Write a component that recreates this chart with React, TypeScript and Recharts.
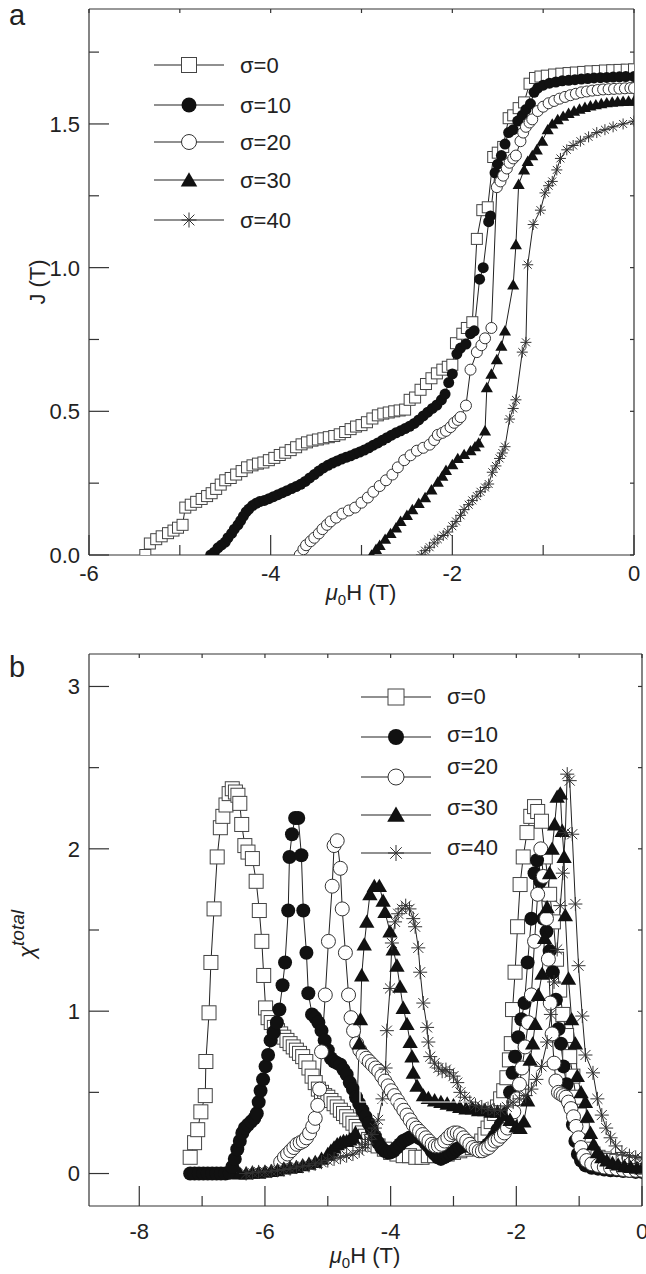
import React from 'react';
import { ComposedChart, Line, XAxis, YAxis } from 'recharts';

type Kind = 'square' | 'dot' | 'ring' | 'tri' | 'star';
type Pt = [number, number];

// panel a: J (T) vs mu0H (T)
const jS0: Pt[] = [
  [-5.38, 0], [-5.33, 0.04], [-5.26, 0.055], [-5.2, 0.065], [-5.13, 0.076], [-5.07, 0.085], [-5.02, 0.095], [-4.97, 0.105],
  [-4.94, 0.165], [-4.88, 0.175], [-4.82, 0.185], [-4.76, 0.195], [-4.7, 0.205], [-4.65, 0.215], [-4.6, 0.23], [-4.55, 0.245],
  [-4.5, 0.26], [-4.44, 0.268], [-4.38, 0.28], [-4.32, 0.292], [-4.26, 0.305], [-4.2, 0.312], [-4.14, 0.318], [-4.08, 0.322],
  [-4.02, 0.33], [-3.96, 0.338], [-3.9, 0.348], [-3.84, 0.356], [-3.78, 0.365], [-3.72, 0.375], [-3.66, 0.385], [-3.6, 0.392],
  [-3.54, 0.398], [-3.48, 0.402], [-3.42, 0.406], [-3.36, 0.41], [-3.3, 0.414], [-3.24, 0.42], [-3.18, 0.428], [-3.12, 0.438],
  [-3.06, 0.447], [-3.0, 0.452], [-2.94, 0.462], [-2.88, 0.475], [-2.82, 0.486], [-2.76, 0.492], [-2.7, 0.496], [-2.64, 0.5],
  [-2.58, 0.503], [-2.52, 0.506], [-2.47, 0.54], [-2.41, 0.548], [-2.35, 0.575], [-2.29, 0.595], [-2.23, 0.615], [-2.17, 0.632],
  [-2.11, 0.645], [-2.05, 0.655], [-2.0, 0.662], [-1.96, 0.737], [-1.89, 0.77], [-1.84, 0.79], [-1.78, 0.81], [-1.73, 1.1],
  [-1.67, 1.2], [-1.61, 1.21], [-1.55, 1.385], [-1.5, 1.4], [-1.44, 1.42], [-1.38, 1.52], [-1.33, 1.53], [-1.27, 1.555],
  [-1.21, 1.575], [-1.15, 1.64], [-1.09, 1.66], [-1.03, 1.665], [-0.96, 1.668], [-0.88, 1.672], [-0.8, 1.675], [-0.72, 1.677],
  [-0.64, 1.679], [-0.56, 1.681], [-0.48, 1.683], [-0.4, 1.684], [-0.32, 1.686], [-0.24, 1.687], [-0.16, 1.688], [-0.08, 1.689], [0, 1.69],
];
const jS10: Pt[] = [
  [-4.66, 0], [-4.62, 0.01], [-4.58, 0.025], [-4.54, 0.035], [-4.5, 0.045], [-4.47, 0.06], [-4.43, 0.075], [-4.4, 0.09],
  [-4.36, 0.105], [-4.33, 0.12], [-4.3, 0.135], [-4.27, 0.15], [-4.24, 0.16], [-4.2, 0.172], [-4.16, 0.18], [-4.12, 0.186],
  [-4.07, 0.19], [-4.02, 0.196], [-3.97, 0.203], [-3.92, 0.21], [-3.87, 0.217], [-3.82, 0.224], [-3.77, 0.231], [-3.72, 0.238],
  [-3.67, 0.246], [-3.62, 0.256], [-3.57, 0.268], [-3.52, 0.28], [-3.47, 0.292], [-3.42, 0.303], [-3.37, 0.312], [-3.32, 0.32],
  [-3.27, 0.327], [-3.22, 0.334], [-3.17, 0.34], [-3.12, 0.345], [-3.07, 0.352], [-3.02, 0.358], [-2.97, 0.365], [-2.92, 0.373],
  [-2.87, 0.382], [-2.82, 0.39], [-2.77, 0.399], [-2.72, 0.408], [-2.67, 0.417], [-2.62, 0.425], [-2.57, 0.432], [-2.52, 0.44],
  [-2.47, 0.448], [-2.42, 0.458], [-2.37, 0.47], [-2.32, 0.484], [-2.27, 0.497], [-2.22, 0.51], [-2.17, 0.522], [-2.12, 0.54],
  [-2.08, 0.56], [-2.04, 0.6], [-2.0, 0.63], [-1.95, 0.7], [-1.91, 0.72], [-1.85, 0.734], [-1.8, 0.77], [-1.76, 0.78],
  [-1.7, 0.96], [-1.66, 1.0], [-1.6, 1.16], [-1.58, 1.18], [-1.53, 1.33], [-1.5, 1.36], [-1.46, 1.39], [-1.42, 1.43],
  [-1.38, 1.47], [-1.33, 1.48], [-1.28, 1.51], [-1.23, 1.53], [-1.19, 1.55], [-1.14, 1.57], [-1.1, 1.61], [-1.06, 1.625],
  [-1.0, 1.635], [-0.93, 1.642], [-0.86, 1.646], [-0.79, 1.65], [-0.72, 1.652], [-0.65, 1.654], [-0.58, 1.656], [-0.51, 1.658],
  [-0.44, 1.66], [-0.37, 1.661], [-0.3, 1.662], [-0.23, 1.663], [-0.16, 1.664], [-0.09, 1.665], [0, 1.665],
];
const jS20: Pt[] = [
  [-3.68, 0], [-3.64, 0.02], [-3.61, 0.034], [-3.56, 0.048], [-3.52, 0.06], [-3.47, 0.075], [-3.43, 0.09], [-3.38, 0.105],
  [-3.34, 0.117], [-3.28, 0.13], [-3.21, 0.144], [-3.14, 0.155], [-3.07, 0.165], [-3.0, 0.182], [-2.93, 0.2], [-2.87, 0.22],
  [-2.8, 0.24], [-2.73, 0.26], [-2.66, 0.28], [-2.6, 0.305], [-2.53, 0.33], [-2.46, 0.347], [-2.39, 0.363], [-2.32, 0.373],
  [-2.25, 0.384], [-2.2, 0.4], [-2.16, 0.418], [-2.11, 0.425], [-2.07, 0.432], [-2.02, 0.445], [-1.98, 0.46], [-1.94, 0.47],
  [-1.91, 0.48], [-1.85, 0.52], [-1.8, 0.645], [-1.73, 0.706], [-1.68, 0.73], [-1.64, 0.754], [-1.57, 0.79], [-1.51, 1.28],
  [-1.47, 1.3], [-1.44, 1.32], [-1.4, 1.345], [-1.37, 1.365], [-1.33, 1.38], [-1.3, 1.39], [-1.25, 1.44], [-1.22, 1.47],
  [-1.19, 1.49], [-1.15, 1.505], [-1.12, 1.516], [-1.06, 1.545], [-1.0, 1.56], [-0.94, 1.572], [-0.88, 1.58], [-0.82, 1.588],
  [-0.76, 1.594], [-0.7, 1.6], [-0.64, 1.605], [-0.58, 1.61], [-0.52, 1.613], [-0.46, 1.616], [-0.4, 1.618], [-0.34, 1.62],
  [-0.28, 1.621], [-0.22, 1.622], [-0.16, 1.623], [-0.1, 1.624], [-0.04, 1.625], [0, 1.625],
];
const jS30: Pt[] = [
  [-2.89, 0], [-2.84, 0.02], [-2.8, 0.034], [-2.74, 0.055], [-2.68, 0.075], [-2.62, 0.095], [-2.57, 0.117], [-2.5, 0.138],
  [-2.44, 0.158], [-2.37, 0.18], [-2.3, 0.2], [-2.23, 0.227], [-2.16, 0.254], [-2.11, 0.275], [-2.07, 0.295], [-2.0, 0.315],
  [-1.94, 0.336], [-1.87, 0.35], [-1.8, 0.363], [-1.75, 0.377], [-1.71, 0.39], [-1.64, 0.432], [-1.62, 0.583], [-1.57, 0.63],
  [-1.51, 0.68], [-1.46, 0.727], [-1.42, 0.78], [-1.33, 0.94], [-1.3, 1.08], [-1.27, 1.29], [-1.21, 1.34], [-1.17, 1.37],
  [-1.12, 1.39], [-1.07, 1.41], [-1.01, 1.44], [-0.95, 1.48], [-0.9, 1.5], [-0.84, 1.515], [-0.78, 1.527], [-0.72, 1.537],
  [-0.66, 1.545], [-0.6, 1.552], [-0.54, 1.558], [-0.48, 1.563], [-0.42, 1.567], [-0.36, 1.571], [-0.3, 1.574], [-0.24, 1.576],
  [-0.18, 1.578], [-0.12, 1.579], [-0.06, 1.58], [0, 1.58],
];
const jS40: Pt[] = [
  [-2.34, 0], [-2.3, 0.015], [-2.25, 0.027], [-2.2, 0.042], [-2.16, 0.055], [-2.1, 0.068], [-2.05, 0.08], [-2.0, 0.1],
  [-1.96, 0.117], [-1.91, 0.138], [-1.87, 0.158], [-1.82, 0.175], [-1.78, 0.19], [-1.73, 0.205], [-1.69, 0.22], [-1.64, 0.235],
  [-1.6, 0.247], [-1.56, 0.288], [-1.52, 0.31], [-1.48, 0.336], [-1.45, 0.355], [-1.42, 0.377], [-1.37, 0.473], [-1.33, 0.51],
  [-1.3, 0.54], [-1.23, 0.706], [-1.19, 0.74], [-1.17, 1.01], [-1.11, 1.15], [-1.03, 1.2], [-0.98, 1.26], [-0.94, 1.285],
  [-0.9, 1.3], [-0.85, 1.34], [-0.81, 1.38], [-0.74, 1.41], [-0.67, 1.425], [-0.59, 1.44], [-0.5, 1.455], [-0.41, 1.47],
  [-0.32, 1.48], [-0.23, 1.49], [-0.12, 1.5], [0, 1.51],
];

// panel b: chi total vs mu0H (T)
const cS0: Pt[] = [
  [-7.19, 0.1], [-7.12, 0.19], [-7.07, 0.27], [-7.02, 0.38], [-6.95, 0.48], [-6.94, 0.69], [-6.89, 0.99], [-6.86, 1.3],
  [-6.81, 1.63], [-6.76, 1.95], [-6.71, 2.13], [-6.67, 2.2], [-6.62, 2.27], [-6.57, 2.34], [-6.52, 2.37], [-6.47, 2.35],
  [-6.43, 2.33], [-6.4, 2.28], [-6.37, 2.15], [-6.32, 2.02], [-6.27, 1.98], [-6.2, 1.94], [-6.14, 1.8], [-6.09, 1.62],
  [-6.05, 1.43], [-6.02, 1.22], [-5.99, 1.02], [-5.95, 0.96], [-5.9, 0.93], [-5.85, 0.9], [-5.8, 0.88], [-5.75, 0.86],
  [-5.7, 0.84], [-5.65, 0.82], [-5.6, 0.8], [-5.55, 0.78], [-5.5, 0.76], [-5.45, 0.74], [-5.4, 0.72], [-5.35, 0.69],
  [-5.3, 0.65], [-5.25, 0.6], [-5.2, 0.56], [-5.15, 0.52], [-5.1, 0.5], [-5.05, 0.48], [-5.0, 0.47], [-4.95, 0.45],
  [-4.9, 0.43], [-4.85, 0.41], [-4.8, 0.39], [-4.75, 0.37], [-4.7, 0.35], [-4.65, 0.33], [-4.6, 0.31], [-4.55, 0.29],
  [-4.5, 0.27], [-4.45, 0.25], [-4.4, 0.23], [-4.35, 0.21], [-4.3, 0.2], [-4.25, 0.18], [-4.2, 0.17], [-4.1, 0.15],
  [-4.0, 0.13], [-3.9, 0.12], [-3.8, 0.11], [-3.7, 0.11], [-3.6, 0.1], [-3.5, 0.1], [-3.4, 0.11], [-3.3, 0.11],
  [-3.2, 0.12], [-3.1, 0.12], [-3.0, 0.13], [-2.9, 0.14], [-2.8, 0.15], [-2.7, 0.16], [-2.6, 0.18], [-2.55, 0.2],
  [-2.5, 0.24], [-2.45, 0.28], [-2.4, 0.32], [-2.35, 0.37], [-2.3, 0.41], [-2.25, 0.46], [-2.2, 0.51], [-2.15, 0.59],
  [-2.11, 0.7], [-2.08, 0.8], [-2.06, 1.01], [-2.02, 1.24], [-1.98, 1.52], [-1.94, 1.78], [-1.89, 1.95], [-1.83, 2.1],
  [-1.77, 2.2], [-1.71, 2.26], [-1.66, 2.23], [-1.6, 2.17], [-1.54, 1.95], [-1.47, 1.72], [-1.41, 1.55], [-1.36, 1.32],
  [-1.31, 1.13], [-1.26, 0.98], [-1.2, 0.85], [-1.15, 0.72], [-1.1, 0.6], [-1.05, 0.47], [-1.0, 0.36], [-0.95, 0.27],
  [-0.9, 0.2], [-0.84, 0.15], [-0.78, 0.12], [-0.7, 0.1], [-0.6, 0.09], [-0.5, 0.08], [-0.4, 0.075], [-0.3, 0.07],
  [-0.2, 0.065], [-0.1, 0.06], [0, 0.055],
];
const cS10: Pt[] = [
  [-7.19, 0], [-7.12, 0], [-7.05, 0], [-6.98, 0], [-6.91, 0], [-6.84, 0], [-6.77, 0], [-6.7, 0], [-6.63, 0],
  [-6.56, 0.005], [-6.52, 0.04], [-6.48, 0.09], [-6.44, 0.15], [-6.4, 0.2], [-6.36, 0.25], [-6.32, 0.28], [-6.27, 0.3],
  [-6.22, 0.32], [-6.17, 0.34], [-6.13, 0.37], [-6.1, 0.44], [-6.07, 0.51], [-6.03, 0.58], [-5.99, 0.66], [-5.95, 0.73],
  [-5.91, 0.82], [-5.86, 0.87], [-5.81, 0.93], [-5.77, 1.01], [-5.72, 1.16], [-5.68, 1.3], [-5.63, 1.62], [-5.61, 1.95],
  [-5.57, 2.09], [-5.52, 2.19], [-5.47, 2.19], [-5.42, 1.96], [-5.39, 1.62], [-5.34, 1.36], [-5.31, 1.11], [-5.25, 0.98],
  [-5.2, 0.96], [-5.15, 0.93], [-5.1, 0.88], [-5.05, 0.82], [-5.0, 0.76], [-4.95, 0.71], [-4.9, 0.69], [-4.85, 0.68],
  [-4.8, 0.67], [-4.75, 0.64], [-4.7, 0.61], [-4.65, 0.56], [-4.6, 0.52], [-4.55, 0.47], [-4.5, 0.43], [-4.45, 0.39],
  [-4.4, 0.35], [-4.35, 0.31], [-4.3, 0.27], [-4.25, 0.23], [-4.2, 0.19], [-4.15, 0.16], [-4.1, 0.14], [-4.05, 0.13],
  [-4.0, 0.13], [-3.95, 0.14], [-3.9, 0.16], [-3.85, 0.18], [-3.8, 0.2], [-3.75, 0.21], [-3.7, 0.22], [-3.65, 0.23],
  [-3.6, 0.23], [-3.55, 0.22], [-3.5, 0.21], [-3.45, 0.19], [-3.4, 0.17], [-3.35, 0.14], [-3.3, 0.12], [-3.25, 0.1],
  [-3.2, 0.09], [-3.15, 0.1], [-3.1, 0.11], [-3.05, 0.12], [-3.0, 0.13], [-2.95, 0.15], [-2.9, 0.16], [-2.85, 0.17],
  [-2.8, 0.18], [-2.75, 0.17], [-2.7, 0.16], [-2.65, 0.15], [-2.6, 0.14], [-2.55, 0.14], [-2.5, 0.16], [-2.45, 0.18],
  [-2.4, 0.2], [-2.35, 0.23], [-2.3, 0.27], [-2.25, 0.3], [-2.2, 0.33], [-2.15, 0.37], [-2.1, 0.5], [-2.06, 0.62],
  [-2.02, 0.72], [-1.97, 0.84], [-1.92, 0.95], [-1.87, 1.05], [-1.82, 1.3], [-1.76, 1.57], [-1.71, 1.85], [-1.67, 1.93],
  [-1.62, 1.8], [-1.57, 1.57], [-1.52, 1.49], [-1.47, 1.37], [-1.42, 1.24], [-1.37, 1.07], [-1.33, 0.89], [-1.29, 0.8],
  [-1.25, 0.66], [-1.2, 0.55], [-1.15, 0.42], [-1.1, 0.3], [-1.06, 0.2], [-1.02, 0.12], [-0.97, 0.08], [-0.9, 0.05],
  [-0.8, 0.035], [-0.7, 0.03], [-0.6, 0.025], [-0.5, 0.02], [-0.4, 0.02], [-0.3, 0.015], [-0.2, 0.015], [-0.1, 0.01], [0, 0.01],
];
const cS20: Pt[] = [
  [-5.75, 0.07], [-5.69, 0.1], [-5.64, 0.12], [-5.59, 0.14], [-5.54, 0.16], [-5.49, 0.18], [-5.44, 0.19], [-5.39, 0.2],
  [-5.34, 0.22], [-5.29, 0.25], [-5.24, 0.29], [-5.2, 0.34], [-5.16, 0.42], [-5.13, 0.52], [-5.1, 0.75], [-5.04, 1.1],
  [-4.99, 1.43], [-4.93, 1.77], [-4.9, 2.02], [-4.85, 2.05], [-4.8, 1.88], [-4.77, 1.63], [-4.72, 1.36], [-4.67, 1.1],
  [-4.63, 0.96], [-4.59, 0.88], [-4.54, 0.8], [-4.49, 0.76], [-4.44, 0.73], [-4.39, 0.71], [-4.34, 0.69], [-4.29, 0.67],
  [-4.24, 0.65], [-4.19, 0.63], [-4.14, 0.6], [-4.09, 0.57], [-4.04, 0.54], [-3.99, 0.51], [-3.94, 0.48], [-3.89, 0.45],
  [-3.84, 0.42], [-3.79, 0.39], [-3.74, 0.36], [-3.69, 0.33], [-3.64, 0.3], [-3.59, 0.28], [-3.54, 0.26], [-3.49, 0.24],
  [-3.44, 0.22], [-3.39, 0.2], [-3.34, 0.18], [-3.29, 0.17], [-3.24, 0.17], [-3.19, 0.18], [-3.14, 0.2], [-3.09, 0.22],
  [-3.04, 0.24], [-2.99, 0.25], [-2.94, 0.25], [-2.89, 0.24], [-2.84, 0.22], [-2.79, 0.2], [-2.74, 0.18], [-2.69, 0.16],
  [-2.64, 0.15], [-2.59, 0.14], [-2.54, 0.14], [-2.49, 0.15], [-2.44, 0.16], [-2.39, 0.18], [-2.34, 0.2], [-2.29, 0.21],
  [-2.24, 0.23], [-2.19, 0.25], [-2.14, 0.28], [-2.09, 0.32], [-2.04, 0.38], [-1.99, 0.46], [-1.95, 0.55], [-1.91, 0.65],
  [-1.86, 0.78], [-1.81, 0.93], [-1.76, 1.1], [-1.71, 1.43], [-1.66, 1.72], [-1.61, 2.0], [-1.57, 1.83], [-1.52, 1.57],
  [-1.49, 1.32], [-1.46, 1.05], [-1.43, 0.86], [-1.4, 0.68], [-1.37, 0.57], [-1.33, 0.5], [-1.29, 0.49], [-1.25, 0.48],
  [-1.21, 0.47], [-1.17, 0.44], [-1.13, 0.4], [-1.09, 0.35], [-1.05, 0.29], [-1.01, 0.22], [-0.97, 0.16], [-0.93, 0.11],
  [-0.88, 0.08], [-0.8, 0.06], [-0.7, 0.05], [-0.6, 0.04], [-0.5, 0.035], [-0.4, 0.03], [-0.3, 0.025], [-0.2, 0.02],
  [-0.1, 0.02], [0, 0.02],
];
const cS30: Pt[] = [
  [-6.4, 0], [-6.3, 0], [-6.2, 0.005], [-6.1, 0.005], [-6.0, 0.01], [-5.9, 0.015], [-5.8, 0.02], [-5.7, 0.03],
  [-5.6, 0.035], [-5.5, 0.04], [-5.4, 0.05], [-5.3, 0.06], [-5.2, 0.07], [-5.1, 0.09], [-5.0, 0.12], [-4.95, 0.14],
  [-4.9, 0.16], [-4.85, 0.18], [-4.8, 0.19], [-4.75, 0.2], [-4.7, 0.2], [-4.65, 0.21], [-4.6, 0.22], [-4.56, 0.25],
  [-4.53, 0.48], [-4.5, 0.8], [-4.48, 0.95], [-4.46, 1.22], [-4.42, 1.41], [-4.38, 1.55], [-4.33, 1.72], [-4.26, 1.77],
  [-4.18, 1.77], [-4.12, 1.68], [-4.09, 1.61], [-4.01, 1.49], [-3.96, 1.38], [-3.9, 1.28], [-3.85, 1.15], [-3.8, 1.02],
  [-3.74, 0.92], [-3.69, 0.81], [-3.66, 0.72], [-3.64, 0.62], [-3.58, 0.54], [-3.48, 0.48], [-3.4, 0.465], [-3.3, 0.45],
  [-3.2, 0.44], [-3.1, 0.43], [-3.0, 0.42], [-2.9, 0.41], [-2.8, 0.4], [-2.7, 0.4], [-2.6, 0.39], [-2.5, 0.39],
  [-2.4, 0.38], [-2.3, 0.38], [-2.2, 0.36], [-2.1, 0.33], [-2.0, 0.29], [-1.94, 0.28], [-1.88, 0.32], [-1.82, 0.45],
  [-1.78, 0.7], [-1.74, 0.8], [-1.7, 0.92], [-1.65, 1.1], [-1.59, 1.23], [-1.55, 1.45], [-1.51, 1.64], [-1.47, 1.85],
  [-1.43, 2.0], [-1.39, 2.15], [-1.35, 2.32], [-1.3, 2.34], [-1.27, 2.11], [-1.24, 1.95], [-1.22, 1.59], [-1.17, 1.2],
  [-1.12, 0.95], [-1.06, 0.8], [-1.03, 0.6], [-0.97, 0.5], [-0.9, 0.44], [-0.87, 0.35], [-0.82, 0.25], [-0.77, 0.18],
  [-0.71, 0.13], [-0.64, 0.1], [-0.56, 0.08], [-0.47, 0.065], [-0.38, 0.055], [-0.28, 0.045], [-0.18, 0.04], [-0.08, 0.035], [0, 0.03],
];
const cS40: Pt[] = [
  [-6.3, 0], [-6.2, 0.005], [-6.1, 0.01], [-6.0, 0.01], [-5.9, 0.015], [-5.8, 0.02], [-5.7, 0.025], [-5.6, 0.03],
  [-5.5, 0.04], [-5.4, 0.045], [-5.3, 0.05], [-5.2, 0.06], [-5.1, 0.07], [-5.0, 0.08], [-4.9, 0.09], [-4.8, 0.1],
  [-4.7, 0.11], [-4.6, 0.12], [-4.5, 0.14], [-4.45, 0.16], [-4.4, 0.18], [-4.35, 0.21], [-4.3, 0.24], [-4.25, 0.28],
  [-4.2, 0.33], [-4.13, 0.46], [-4.08, 0.65], [-4.06, 0.88], [-4.01, 1.14], [-3.98, 1.42], [-3.93, 1.55], [-3.88, 1.6],
  [-3.82, 1.63], [-3.76, 1.65], [-3.7, 1.63], [-3.64, 1.57], [-3.61, 1.52], [-3.56, 1.39], [-3.53, 1.24], [-3.48, 1.05],
  [-3.42, 0.9], [-3.4, 0.81], [-3.37, 0.72], [-3.3, 0.68], [-3.24, 0.65], [-3.18, 0.63], [-3.12, 0.64], [-3.06, 0.62],
  [-3.0, 0.6], [-2.94, 0.56], [-2.89, 0.5], [-2.82, 0.47], [-2.74, 0.44], [-2.65, 0.42], [-2.55, 0.41], [-2.45, 0.4],
  [-2.35, 0.39], [-2.25, 0.39], [-2.15, 0.41], [-2.05, 0.44], [-1.95, 0.46], [-1.85, 0.48], [-1.76, 0.52], [-1.68, 0.58],
  [-1.6, 0.66], [-1.51, 0.81], [-1.45, 0.98], [-1.4, 1.18], [-1.35, 1.38], [-1.3, 1.65], [-1.26, 1.85], [-1.22, 2.1],
  [-1.19, 2.46], [-1.15, 2.42], [-1.11, 2.09], [-1.06, 1.66], [-1.01, 1.28], [-0.95, 0.97], [-0.9, 0.73], [-0.78, 0.62],
  [-0.71, 0.46], [-0.64, 0.36], [-0.57, 0.28], [-0.5, 0.22], [-0.42, 0.17], [-0.32, 0.13], [-0.2, 0.11], [-0.1, 0.1], [0, 0.09],
];

const sigmaNames = ['σ=0', 'σ=10', 'σ=20', 'σ=30', 'σ=40'];
const markerKinds: Kind[] = ['square', 'dot', 'ring', 'tri', 'star'];
const jSeries = [jS0, jS10, jS20, jS30, jS40];
const chiSeries = [cS0, cS10, cS20, cS30, cS40];

const aXTicks = [-6, -5, -4, -3, -2, -1, 0];
const aYTicks = [0, 0.25, 0.5, 0.75, 1, 1.25, 1.5, 1.75];
const bXTicks = [-8, -7, -6, -5, -4, -3, -2, -1, 0];
const bYTicks = [0, 0.5, 1, 1.5, 2, 2.5, 3];

const FONT = '"Liberation Sans", Arial, Helvetica, sans-serif';
const INK = '#222';
const AXIS = '#333';
const TM = 8;
const FS = 22;

const toRows = (pts: Pt[]) => pts.map(([x, y]) => ({ x, y }));
const isMajor = (v: number, step: number) => Math.abs(v / step - Math.round(v / step)) < 1e-6;

function Marker({ kind, cx, cy, size }: { kind: Kind; cx: number; cy: number; size: number }) {
  const h = size / 2;
  if (kind === 'square')
    return <rect x={cx - h} y={cy - h} width={size} height={size} fill="#fff" stroke="#444" strokeWidth={1} />;
  if (kind === 'dot') return <circle cx={cx} cy={cy} r={h} fill="#111" />;
  if (kind === 'ring') return <circle cx={cx} cy={cy} r={h} fill="#fff" stroke="#333" strokeWidth={1} />;
  if (kind === 'tri')
    return (
      <path
        d={`M${cx},${cy - h * 1.05}L${cx + h * 1.1},${cy + h * 0.85}L${cx - h * 1.1},${cy + h * 0.85}Z`}
        fill="#111"
      />
    );
  const d = h * 0.72;
  return (
    <path
      d={`M${cx - h},${cy}H${cx + h}M${cx},${cy - h}V${cy + h}M${cx - d},${cy - d}L${cx + d},${cy + d}M${cx - d},${cy + d}L${cx + d},${cy - d}`}
      stroke="#333"
      strokeWidth={1}
      fill="none"
    />
  );
}

// ticks point inward; labels only on major ticks
function tickRenderer(
  side: 'left' | 'right' | 'top' | 'bottom',
  step: number,
  majorLen: number,
  minorLen: number,
  fmt: ((v: number) => string) | null,
  labelGap = 18
) {
  return (p: any) => {
    const v = p.payload.value as number;
    const len = isMajor(v, step) ? majorLen : minorLen;
    const { x, y } = p;
    let line;
    let label = null;
    if (side === 'left') {
      line = <line x1={x + TM} x2={x + TM + len} y1={y} y2={y} stroke={AXIS} strokeWidth={1.2} />;
      if (fmt && isMajor(v, step))
        label = (
          <text x={x + TM - 9} y={y} dy="0.36em" textAnchor="end" fontSize={FS} fill={INK} fontFamily={FONT}>
            {fmt(v)}
          </text>
        );
    } else if (side === 'right') {
      line = <line x1={x - TM} x2={x - TM - len} y1={y} y2={y} stroke={AXIS} strokeWidth={1.2} />;
    } else if (side === 'top') {
      line = <line x1={x} x2={x} y1={y + TM} y2={y + TM + len} stroke={AXIS} strokeWidth={1.2} />;
    } else {
      line = <line x1={x} x2={x} y1={y - TM} y2={y - TM - len} stroke={AXIS} strokeWidth={1.2} />;
      if (fmt && isMajor(v, step))
        label = (
          <text x={x} y={y - TM + labelGap} dy="0.36em" textAnchor="middle" fontSize={FS} fill={INK} fontFamily={FONT}>
            {fmt(v)}
          </text>
        );
    }
    return (
      <g key={`${side}-${v}`}>
        {line}
        {label}
      </g>
    );
  };
}

function dotFor(kind: Kind, size: number) {
  return (p: any) => {
    if (p.cx == null || p.cy == null) return <g key={p.index} />;
    return <Marker key={p.index} kind={kind} cx={p.cx} cy={p.cy} size={size} />;
  };
}

function Panel({
  series,
  xDomain,
  yDomain,
  xTicks,
  yTicks,
  xStep,
  yStep,
  yFmt,
  height,
  margin,
  markerSize,
  labelGap,
}: {
  series: Pt[][];
  xDomain: [number, number];
  yDomain: [number, number];
  xTicks: number[];
  yTicks: number[];
  xStep: number;
  yStep: number;
  yFmt: (v: number) => string;
  height: number;
  margin: { top: number; right: number; bottom: number; left: number };
  markerSize: number;
  labelGap: number;
}) {
  return (
    <ComposedChart width={646} height={height} margin={margin}>
      <XAxis
        xAxisId="b"
        dataKey="x"
        type="number"
        domain={xDomain}
        ticks={xTicks}
        interval={0}
        allowDataOverflow
        height={40}
        tickSize={0}
        tickMargin={TM}
        tickLine={false}
        axisLine={{ stroke: AXIS, strokeWidth: 1.2 }}
        tick={tickRenderer('bottom', xStep, 20, 10, (v) => String(v), labelGap)}
      />
      <XAxis
        xAxisId="t"
        orientation="top"
        dataKey="x"
        type="number"
        domain={xDomain}
        ticks={xTicks}
        interval={0}
        allowDataOverflow
        height={1}
        tickSize={0}
        tickMargin={TM}
        tickLine={false}
        axisLine={{ stroke: AXIS, strokeWidth: 1.2 }}
        tick={tickRenderer('top', xStep, 4, 4, null)}
      />
      <YAxis
        yAxisId="l"
        type="number"
        domain={yDomain}
        ticks={yTicks}
        interval={0}
        allowDataOverflow
        width={60}
        tickSize={0}
        tickMargin={TM}
        tickLine={false}
        axisLine={{ stroke: AXIS, strokeWidth: 1.2 }}
        tick={tickRenderer('left', yStep, 20, 10, yFmt)}
      />
      <YAxis
        yAxisId="r"
        orientation="right"
        type="number"
        domain={yDomain}
        ticks={yTicks}
        interval={0}
        allowDataOverflow
        width={1}
        tickSize={0}
        tickMargin={TM}
        tickLine={false}
        axisLine={{ stroke: AXIS, strokeWidth: 1.2 }}
        tick={tickRenderer('right', yStep, 4, 4, null)}
      />
      {series.map((pts, i) => (
        <Line
          key={sigmaNames[i]}
          name={sigmaNames[i]}
          data={toRows(pts)}
          dataKey="y"
          xAxisId="b"
          yAxisId="l"
          type="linear"
          stroke={INK}
          strokeWidth={1}
          dot={dotFor(markerKinds[i], markerSize)}
          activeDot={false}
          isAnimationActive={false}
        />
      ))}
    </ComposedChart>
  );
}

function LegendBlock({ x, ys, textYs, size }: { x: number; ys: number[]; textYs: number[]; size: number }) {
  return (
    <g>
      {sigmaNames.map((n, i) => (
        <g key={n}>
          <line x1={x} x2={x + 70} y1={ys[i]} y2={ys[i]} stroke={INK} strokeWidth={1.2} />
          <Marker kind={markerKinds[i]} cx={x + 35} cy={ys[i]} size={size} />
          <text x={x + 86} y={textYs[i]} dy="0.36em" fontSize={FS} fill={INK} fontFamily={FONT}>
            {n}
          </text>
        </g>
      ))}
    </g>
  );
}

export default function App() {
  return (
    <div style={{ position: 'absolute', left: 0, top: 0, width: 646, height: 1274, background: '#fff' }}>
      <div style={{ position: 'absolute', left: 0, top: 0 }}>
        <Panel
          series={jSeries}
          xDomain={[-6, 0]}
          yDomain={[0, 1.9]}
          xTicks={aXTicks}
          yTicks={aYTicks}
          xStep={2}
          yStep={0.5}
          yFmt={(v) => v.toFixed(1)}
          height={620}
          margin={{ top: 8, right: 11, bottom: 25, left: 29 }}
          markerSize={11}
          labelGap={18}
        />
      </div>
      <div style={{ position: 'absolute', left: 0, top: 640 }}>
        <Panel
          series={chiSeries}
          xDomain={[-8.8, 0]}
          yDomain={[-0.2, 3.2]}
          xTicks={bXTicks}
          yTicks={bYTicks}
          xStep={2}
          yStep={1}
          yFmt={(v) => String(v)}
          height={634}
          margin={{ top: 13, right: 3, bottom: 28, left: 29 }}
          markerSize={14}
          labelGap={25}
        />
      </div>
      <svg
        width={646}
        height={1274}
        style={{ position: 'absolute', left: 0, top: 0, pointerEvents: 'none' }}
        fontFamily={FONT}
      >
        <text x={9} y={25} fontSize={29} fill={INK}>a</text>
        <text x={9} y={677} fontSize={29} fill={INK}>b</text>
        <text x={45} y={282} fontSize={FS} fill={INK} textAnchor="middle" transform="rotate(-90 45 282)">
          J (T)
        </text>
        <text x={361} y={600} fontSize={FS} fill={INK} textAnchor="middle">
          <tspan fontStyle="italic">μ</tspan>
          <tspan dy={5} fontSize={15}>0</tspan>
          <tspan dy={-5}>H (T)</tspan>
        </text>
        <text x={365} y={1263} fontSize={FS} fill={INK} textAnchor="middle">
          <tspan fontStyle="italic">μ</tspan>
          <tspan dy={5} fontSize={15}>0</tspan>
          <tspan dy={-5}>H (T)</tspan>
        </text>
        <text x={34} y={934} fontSize={FS} fill={INK} textAnchor="middle" transform="rotate(-90 34 934)">
          <tspan fontStyle="italic">χ</tspan>
          <tspan dy={-10} fontSize={19} fontStyle="italic">total</tspan>
        </text>
        <path d="M360,1055V1102H470" stroke="#fff" strokeWidth={1.2} fill="none" />
        <LegendBlock x={154} ys={[65, 105, 142, 180, 220]} textYs={[65, 105, 142, 180, 220]} size={15} />
        <LegendBlock x={361} ys={[697, 737, 777, 815, 853]} textYs={[696, 734, 766, 807, 847]} size={16} />
      </svg>
    </div>
  );
}
